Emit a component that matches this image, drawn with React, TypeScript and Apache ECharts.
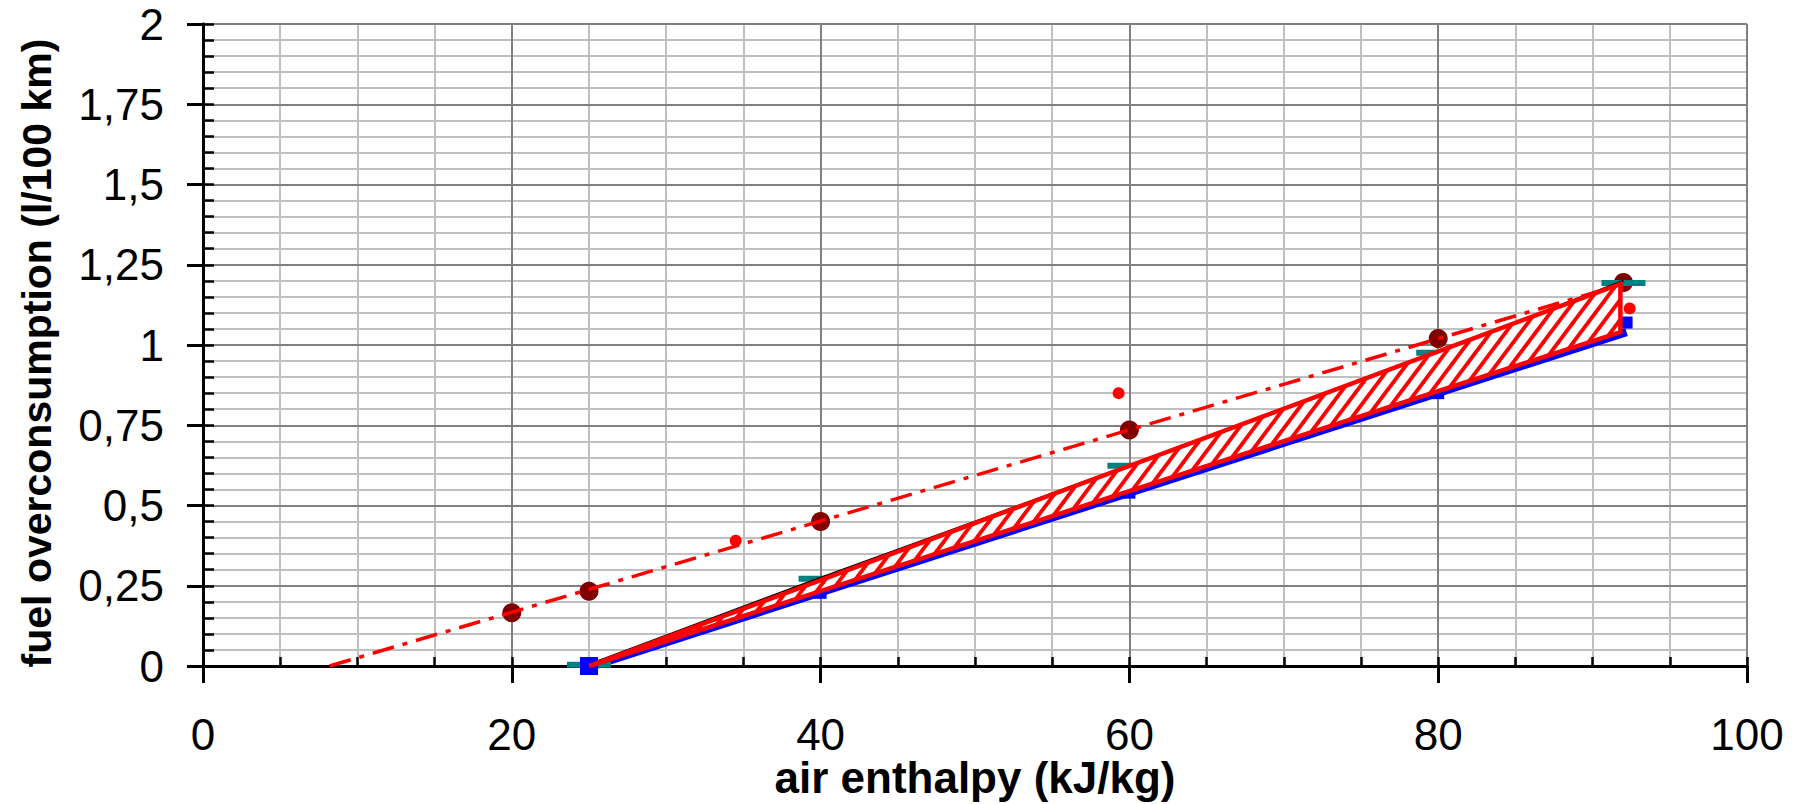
import React, { useEffect, useRef } from 'react';
import * as echarts from 'echarts';

// ---- data ----
const xMin = 0;
const xMax = 100;
const yMin = 0;
const yMax = 2;

// dash-dot trend line
const trendX = [8.2, 92];
const trendY = [0, 1.19];

// large dark-red circles
const circleX = [20, 25, 40, 60, 80, 92];
const circleY = [0.166, 0.233, 0.45, 0.735, 1.02, 1.195];

// small red dots
const redDotX = [34.5, 59.3, 92.4];
const redDotY = [0.39, 0.85, 1.114];

// teal dash markers
const tealX = [25, 40, 60, 80, 92];
const tealY = [0.004, 0.272, 0.624, 0.976, 1.193];

// blue line
const blueLineX = [25, 92.2];
const blueLineY = [-0.004, 1.04];

// blue square markers
const blueSqX = [25, 40, 60, 80, 92.2];
const blueSqY = [0, 0.228, 0.54, 0.85, 1.07];

// thin black line
const blackX = [25, 40, 60, 80, 92];
const blackY = [0.005, 0.275, 0.625, 0.976, 1.2];

// hatched band polygon vertices
const bandX = [25, 91.8, 91.8];
const bandY = [0, 1.19, 1.04];

const zip = (xs: number[], ys: number[]) => xs.map((x, i) => [x, ys[i]]);

const FAM = '"Liberation Sans", Arial, Helvetica, sans-serif';

function makeHatch(): HTMLCanvasElement {
  const w = 15;
  const h = 20;
  const c = document.createElement('canvas');
  c.width = w;
  c.height = h;
  const ctx = c.getContext('2d')!;
  ctx.fillStyle = '#ffffff';
  ctx.fillRect(0, 0, w, h);
  ctx.strokeStyle = '#ff0000';
  ctx.lineWidth = 3.8;
  for (let k = -1; k <= 1; k++) {
    ctx.beginPath();
    ctx.moveTo(k * w - w, 2 * h);
    ctx.lineTo(k * w + 2 * w, -h);
    ctx.stroke();
  }
  return c;
}

export default function App() {
  const ref = useRef<HTMLDivElement>(null);

  useEffect(() => {
    document.body.style.margin = '0';
    document.body.style.overflow = 'hidden';
    if (!ref.current) return;
    const chart = echarts.init(ref.current, undefined, { renderer: 'svg' });
    const hatch = makeHatch();

    const axisCommonHidden = {
      axisLine: { show: false },
      axisTick: { show: false },
      axisLabel: { show: false },
      splitLine: { show: false },
    };

    const option: any = {
      animation: false,
      backgroundColor: '#ffffff',
      grid: {
        left: 203,
        right: 52,
        top: 24,
        bottom: 138,
        containLabel: false,
        outerBoundsMode: 'none',
      },
      xAxis: [
        {
          type: 'value',
          min: xMin,
          max: xMax,
          interval: 20,
          position: 'bottom',
          z: 0,
          axisLine: { show: true, onZero: false, lineStyle: { color: '#000', width: 3 } },
          axisTick: { show: true, inside: false, length: 17, lineStyle: { color: '#000', width: 3 } },
          axisLabel: { fontSize: 44, lineHeight: 40, color: '#000', fontFamily: FAM, margin: 48 },
          splitLine: { show: true, lineStyle: { color: '#808080', width: 2 } },
          name: 'air enthalpy (kJ/kg)',
          nameLocation: 'middle',
          nameGap: 89,
          nameMoveOverlap: false,
          nameTextStyle: {
            fontSize: 44,
            lineHeight: 44,
            fontWeight: 'bold',
            color: '#000',
            fontFamily: FAM,
          },
        },
        {
          type: 'value',
          min: xMin,
          max: xMax,
          interval: 5,
          position: 'bottom',
          z: -1,
          ...axisCommonHidden,
          splitLine: { show: true, lineStyle: { color: '#c0c0c0', width: 2 } },
        },
        {
          type: 'value',
          min: xMin,
          max: xMax,
          interval: 5,
          position: 'bottom',
          z: 1,
          ...axisCommonHidden,
          axisLine: { show: true, onZero: false, lineStyle: { color: '#000', width: 3 } },
          axisTick: { show: true, inside: true, length: 9, lineStyle: { color: '#000', width: 2.5 } },
        },
      ],
      yAxis: [
        {
          type: 'value',
          min: yMin,
          max: yMax,
          interval: 0.25,
          position: 'left',
          z: 0,
          axisLine: { show: true, onZero: false, lineStyle: { color: '#000', width: 3 } },
          axisTick: { show: true, inside: false, length: 16, lineStyle: { color: '#000', width: 3 } },
          axisLabel: {
            fontSize: 44,
            color: '#000',
            fontFamily: FAM,
            margin: 39,
            formatter: (v: number) => String(Math.round(v * 100) / 100).replace('.', ','),
          },
          splitLine: { show: true, lineStyle: { color: '#808080', width: 2 } },
          name: 'fuel overconsumption (l/100 km)',
          nameLocation: 'middle',
          nameGap: 146,
          nameRotate: 90,
          nameTextStyle: {
            fontSize: 41,
            fontWeight: 'bold',
            color: '#000',
            fontFamily: FAM,
            padding: [0, 16, 0, 0],
          },
        },
        {
          type: 'value',
          min: yMin,
          max: yMax,
          interval: 0.05,
          position: 'left',
          z: -1,
          ...axisCommonHidden,
          splitLine: { show: true, lineStyle: { color: '#c0c0c0', width: 2 } },
        },
        {
          type: 'value',
          min: yMin,
          max: yMax,
          interval: 0.05,
          position: 'left',
          z: 1,
          ...axisCommonHidden,
          axisLine: { show: true, onZero: false, lineStyle: { color: '#000', width: 3 } },
          axisTick: { show: true, inside: true, length: 11, lineStyle: { color: '#000', width: 2.5 } },
        },
      ],
      series: [
        {
          name: 'circles',
          type: 'scatter',
          z: 3,
          symbol: 'circle',
          symbolSize: 19,
          itemStyle: { color: '#800000', opacity: 1 },
          data: zip(circleX, circleY),
        },
        {
          name: 'blue line',
          type: 'line',
          z: 3,
          showSymbol: false,
          symbol: 'none',
          lineStyle: { color: '#0000ff', width: 8, opacity: 1 },
          data: zip(blueLineX, blueLineY),
        },
        {
          name: 'teal',
          type: 'scatter',
          z: 4,
          symbol: 'rect',
          symbolSize: [44, 6],
          itemStyle: { color: '#008080', opacity: 1 },
          data: zip(tealX, tealY),
        },
        {
          name: 'blue squares',
          type: 'scatter',
          z: 5,
          symbol: 'rect',
          symbolSize: (_v: any, p: any) => (p.dataIndex === 0 ? 18 : 12),
          itemStyle: { color: '#0000ff', opacity: 1 },
          data: zip(blueSqX, blueSqY),
        },
        {
          name: 'black line',
          type: 'line',
          z: 5,
          showSymbol: false,
          symbol: 'none',
          lineStyle: { color: '#000000', width: 2, opacity: 1 },
          data: zip(blackX, blackY),
        },
        {
          name: 'band',
          type: 'custom',
          z: 6,
          encode: { x: 0, y: 1 },
          data: zip(bandX, bandY),
          renderItem: (params: any, api: any) => {
            if (params.dataIndex !== 0) return null;
            const pts = bandX.map((x, i) => api.coord([x, bandY[i]]));
            return {
              type: 'polygon',
              shape: { points: pts },
              style: {
                fill: { image: hatch, repeat: 'repeat' },
                stroke: '#ff0000',
                lineWidth: 4.5,
                lineJoin: 'miter',
              },
            };
          },
        },
        {
          name: 'trend',
          type: 'line',
          z: 7,
          showSymbol: false,
          symbol: 'none',
          lineStyle: { color: '#ff0000', width: 3.5, type: [22, 9, 5, 9], opacity: 1 },
          data: zip(trendX, trendY),
        },
        {
          name: 'red dots',
          type: 'scatter',
          z: 8,
          symbol: 'circle',
          symbolSize: 12,
          itemStyle: { color: '#ff0000', opacity: 1 },
          data: zip(redDotX, redDotY),
        },
      ],
    };

    chart.setOption(option);
    return () => {
      chart.dispose();
    };
  }, []);

  return <div ref={ref} style={{ width: 1799, height: 804 }} />;
}
